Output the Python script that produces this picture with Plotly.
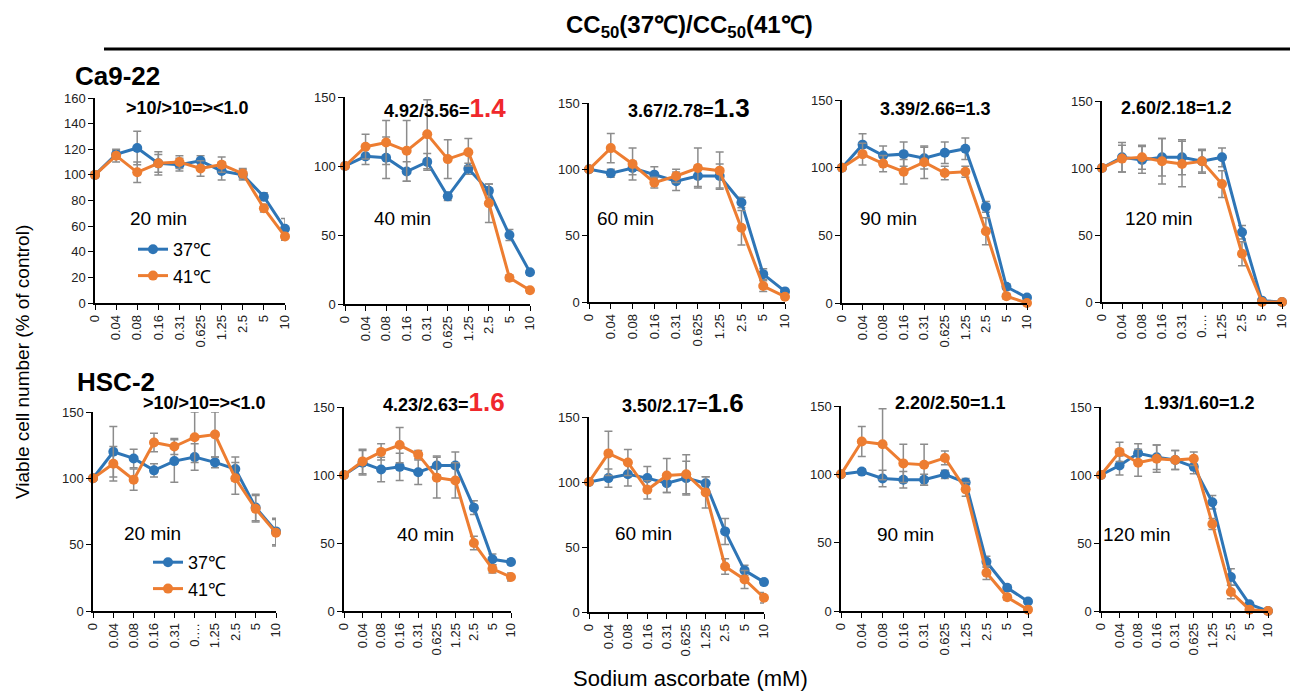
import plotly.graph_objects as go

W, H = 1295, 692

concentrations = ["0", "0.04", "0.08", "0.16", "0.31", "0.625", "1.25", "2.5", "5", "10"]
series_names = ["37℃", "41℃"]
colors = ["#2E75B6", "#ED7D31"]

# Ca9-22
ca_20_37 = [100, 116, 121, 109, 108, 111, 103, 100, 83, 58]
ca_20_41 = [100, 115, 102, 109, 110, 105, 108, 101, 74, 52]
ca_20_37_err = [0, 3, 13, 7, 5, 4, 7, 4, 3, 8]
ca_20_41_err = [0, 5, 8, 9, 5, 6, 6, 4, 3, 3]

ca_40_37 = [100, 107, 106, 96, 103, 78, 98, 82, 50, 23]
ca_40_41 = [100, 114, 117, 111, 123, 105, 110, 73, 19, 10]
ca_40_37_err = [0, 6, 15, 7, 6, 3, 4, 5, 4, 2]
ca_40_41_err = [0, 9, 16, 22, 25, 14, 10, 14, 2, 2]

ca_60_37 = [100, 97, 101, 96, 91, 95, 95, 75, 21, 8]
ca_60_41 = [100, 116, 104, 90, 95, 101, 99, 56, 12, 4]
ca_60_37_err = [0, 3, 5, 6, 7, 8, 9, 4, 4, 2]
ca_60_41_err = [0, 11, 12, 4, 5, 15, 14, 13, 4, 2]

ca_90_37 = [100, 117, 109, 110, 107, 111, 114, 71, 12, 4]
ca_90_41 = [100, 110, 103, 97, 104, 96, 97, 53, 5, 0]
ca_90_37_err = [0, 8, 7, 9, 8, 8, 8, 4, 2, 1]
ca_90_41_err = [0, 8, 6, 9, 12, 5, 4, 10, 2, 1]

ca_120_37 = [100, 108, 106, 108, 108, 105, 108, 52, 1, 0]
ca_120_41 = [100, 107, 108, 105, 103, 105, 88, 36, 0, 0]
ca_120_37_err = [0, 11, 10, 14, 13, 9, 7, 5, 1, 0]
ca_120_41_err = [0, 10, 9, 17, 17, 8, 10, 9, 1, 0]

# HSC-2
hsc_20_37 = [100, 120, 115, 106, 113, 116, 112, 107, 78, 60]
hsc_20_41 = [100, 111, 99, 127, 124, 131, 133, 100, 77, 59]
hsc_20_37_err = [0, 19, 7, 5, 16, 10, 4, 9, 10, 10]
hsc_20_41_err = [0, 13, 8, 7, 6, 19, 17, 12, 10, 10]

hsc_40_37 = [100, 109, 104, 106, 102, 107, 107, 76, 38, 36]
hsc_40_41 = [100, 110, 117, 122, 115, 98, 96, 50, 31, 25]
hsc_40_37_err = [0, 9, 9, 10, 9, 7, 10, 5, 4, 2]
hsc_40_41_err = [0, 9, 6, 13, 3, 15, 13, 5, 3, 3]

hsc_60_37 = [100, 103, 106, 103, 99, 103, 99, 62, 32, 23]
hsc_60_41 = [100, 122, 115, 94, 105, 106, 92, 35, 25, 11]
hsc_60_37_err = [0, 7, 9, 9, 7, 13, 5, 10, 4, 2]
hsc_60_41_err = [0, 17, 10, 7, 13, 15, 12, 6, 7, 4]

hsc_90_37 = [100, 102, 97, 96, 96, 100, 94, 36, 17, 7]
hsc_90_41 = [100, 124, 122, 108, 107, 112, 89, 28, 10, 1]
hsc_90_37_err = [0, 2, 6, 6, 4, 3, 3, 4, 2, 1]
hsc_90_41_err = [0, 11, 26, 14, 15, 5, 5, 5, 2, 1]

hsc_120_37 = [100, 107, 116, 113, 111, 106, 80, 25, 5, 0]
hsc_120_41 = [100, 117, 109, 112, 111, 112, 64, 14, 1, 0]
hsc_120_37_err = [0, 7, 7, 9, 7, 5, 5, 6, 1, 0]
hsc_120_41_err = [0, 7, 10, 10, 7, 5, 4, 5, 1, 0]

panel_data = [
    (ca_20_37, ca_20_41, ca_20_37_err, ca_20_41_err),
    (ca_40_37, ca_40_41, ca_40_37_err, ca_40_41_err),
    (ca_60_37, ca_60_41, ca_60_37_err, ca_60_41_err),
    (ca_90_37, ca_90_41, ca_90_37_err, ca_90_41_err),
    (ca_120_37, ca_120_41, ca_120_37_err, ca_120_41_err),
    (hsc_20_37, hsc_20_41, hsc_20_37_err, hsc_20_41_err),
    (hsc_40_37, hsc_40_41, hsc_40_37_err, hsc_40_41_err),
    (hsc_60_37, hsc_60_41, hsc_60_37_err, hsc_60_41_err),
    (hsc_90_37, hsc_90_41, hsc_90_37_err, hsc_90_41_err),
    (hsc_120_37, hsc_120_41, hsc_120_37_err, hsc_120_41_err),
]

times = ["20 min", "40 min", "60 min", "90 min", "120 min"] * 2
ratio_full = [">10/>10=><1.0", "4.92/3.56=", "3.67/2.78=", "3.39/2.66=1.3", "2.60/2.18=1.2",
              ">10/>10=><1.0", "4.23/2.63=", "3.50/2.17=", "2.20/2.50=1.1", "1.93/1.60=1.2"]
ratio_big = ["", "1.4", "1.3", "", "", "", "1.6", "1.6", "", ""]
ratio_big_red = [False, True, False, False, False, False, True, False, False, False]
y_max = [160, 150, 150, 150, 150, 150, 150, 150, 150, 150]
y_dtick = [20, 50, 50, 50, 50, 50, 50, 50, 50, 50]
short_tick = [False, False, False, False, True, True, False, False, False, False]

# pixel layout of each plot area: (x_left, x_right, y_top, y_bottom)
boxes = [
    (95, 285, 98, 303),
    (345, 530, 97, 304),
    (589, 785, 103, 302),
    (842, 1027, 100, 303),
    (1102, 1282, 101, 302),
    (93, 276, 412, 611),
    (344, 511, 407, 611),
    (589, 764, 417, 612),
    (841, 1028, 406, 611),
    (1101, 1268, 407, 611),
]
title_pos = [(187, 108), (445, 108), (689, 108), (935, 109), (1176, 108),
             (204, 403), (444, 402), (683, 403), (950, 403), (1199, 403)]
time_pos = [(158, 218), (402, 218), (625, 218), (888, 218), (1159, 218),
            (152, 533), (425, 534), (643, 533), (905, 534), (1137, 534)]

fig = go.Figure()
annotations = []
layout = {}
for i, (d37, d41, e37, e41) in enumerate(panel_data):
    n = i + 1
    xa = "x" if n == 1 else f"x{n}"
    ya = "y" if n == 1 else f"y{n}"
    for k, (vals, errs) in enumerate([(d37, e37), (d41, e41)]):
        legend_name = "legend"
        show = False
        if n == 1:
            show = True
        elif n == 6:
            legend_name, show = "legend2", True
        fig.add_trace(go.Scatter(
            x=concentrations, y=vals, xaxis=xa, yaxis=ya,
            mode="lines+markers", name=series_names[k],
            line=dict(color=colors[k], width=3),
            marker=dict(color=colors[k], size=10),
            error_y=dict(type="data", array=errs, visible=True, color="#8c8c8c", thickness=1.5, width=4),
            cliponaxis=False, showlegend=show, legend=legend_name,
        ))
    xl, xr, yt, yb = boxes[i]
    ticktext = list(concentrations)
    if short_tick[i]:
        ticktext[5] = "0.…"
    layout["xaxis" if n == 1 else f"xaxis{n}"] = dict(
        domain=[xl / W, xr / W], anchor=ya, type="category", range=[0, 9],
        tickmode="array", tickvals=concentrations, ticktext=ticktext,
        tickangle=-90, tickfont=dict(size=13, color="#222", family="Liberation Sans, Arial"),
        showline=True, linecolor="#000", linewidth=1.5, ticks="outside", ticklen=5,
        tickcolor="#000", showgrid=False, zeroline=False, fixedrange=True, automargin=False,
    )
    layout["yaxis" if n == 1 else f"yaxis{n}"] = dict(
        domain=[1 - yb / H, 1 - yt / H], anchor=xa, range=[0, y_max[i]], dtick=y_dtick[i],
        tickfont=dict(size=13, color="#222", family="Liberation Sans, Arial"),
        showline=True, linecolor="#000", linewidth=1.5, ticks="outside", ticklen=5,
        tickcolor="#000", showgrid=False, zeroline=False, fixedrange=True, automargin=False,
    )
    tx, ty = title_pos[i]
    if ratio_big[i]:
        col = "#F0282C" if ratio_big_red[i] else "#000"
        txt = (f"<b>{ratio_full[i]}</b><b><span style='font-size:26px;color:{col}'>{ratio_big[i]}</span></b>")
    else:
        txt = f"<b>{ratio_full[i]}</b>"
    annotations.append(dict(x=tx / W, y=1 - ty / H, xref="paper", yref="paper", text=txt,
                            showarrow=False, xanchor="center", yanchor="middle",
                            font=dict(size=18, color="#000", family="Liberation Sans, Arial")))
    mx, my = time_pos[i]
    annotations.append(dict(x=mx / W, y=1 - my / H, xref="paper", yref="paper", text=times[i],
                            showarrow=False, xanchor="center", yanchor="middle",
                            font=dict(size=19, color="#000", family="Liberation Sans, Arial")))

annotations += [
    dict(x=689 / W, y=1 - 27 / H, xref="paper", yref="paper",
         text="<b>CC<sub>50</sub>(37℃)/CC<sub>50</sub>(41℃)</b>", showarrow=False,
         font=dict(size=24, color="#000", family="Liberation Sans, Arial"),
         xanchor="center", yanchor="middle"),
    dict(x=73 / W, y=1 - 76 / H, xref="paper", yref="paper", text="<b>Ca9-22</b>", showarrow=False,
         font=dict(size=26, color="#000", family="Liberation Sans, Arial"),
         xanchor="left", yanchor="middle"),
    dict(x=75 / W, y=1 - 382 / H, xref="paper", yref="paper", text="<b>HSC-2</b>", showarrow=False,
         font=dict(size=26, color="#000", family="Liberation Sans, Arial"),
         xanchor="left", yanchor="middle"),
    dict(x=22 / W, y=1 - 362 / H, xref="paper", yref="paper", text="Viable cell number (% of control)",
         showarrow=False, textangle=-90, font=dict(size=19, color="#000", family="Liberation Sans, Arial"),
         xanchor="center", yanchor="middle"),
    dict(x=690 / W, y=1 - 678 / H, xref="paper", yref="paper", text="Sodium ascorbate (mM)",
         showarrow=False, font=dict(size=22, color="#000", family="Liberation Sans, Arial"),
         xanchor="center", yanchor="middle"),
]

shapes = [dict(type="line", xref="paper", yref="paper", x0=104 / W, x1=1290 / W,
               y0=1 - 49 / H, y1=1 - 49 / H, line=dict(color="#000", width=3))]

legend_style = dict(bgcolor="rgba(0,0,0,0)", font=dict(size=18, color="#000", family="Liberation Sans, Arial"),
                    xanchor="left", yanchor="top", itemwidth=30, tracegroupgap=0)
fig.update_layout(
    width=W, height=H, margin=dict(l=0, r=0, t=0, b=0, autoexpand=False),
    paper_bgcolor="white", plot_bgcolor="white",
    annotations=annotations, shapes=shapes,
    legend=dict(x=133 / W, y=1 - 231 / H, **legend_style),
    legend2=dict(x=148 / W, y=1 - 544 / H, **legend_style),
    **layout,
)
fig.write_html(
    "out.html",
    config={"displayModeBar": False},
    post_script="document.body.style.margin='0px';document.body.style.overflow='hidden';"
                "document.documentElement.style.overflow='hidden';",
)
